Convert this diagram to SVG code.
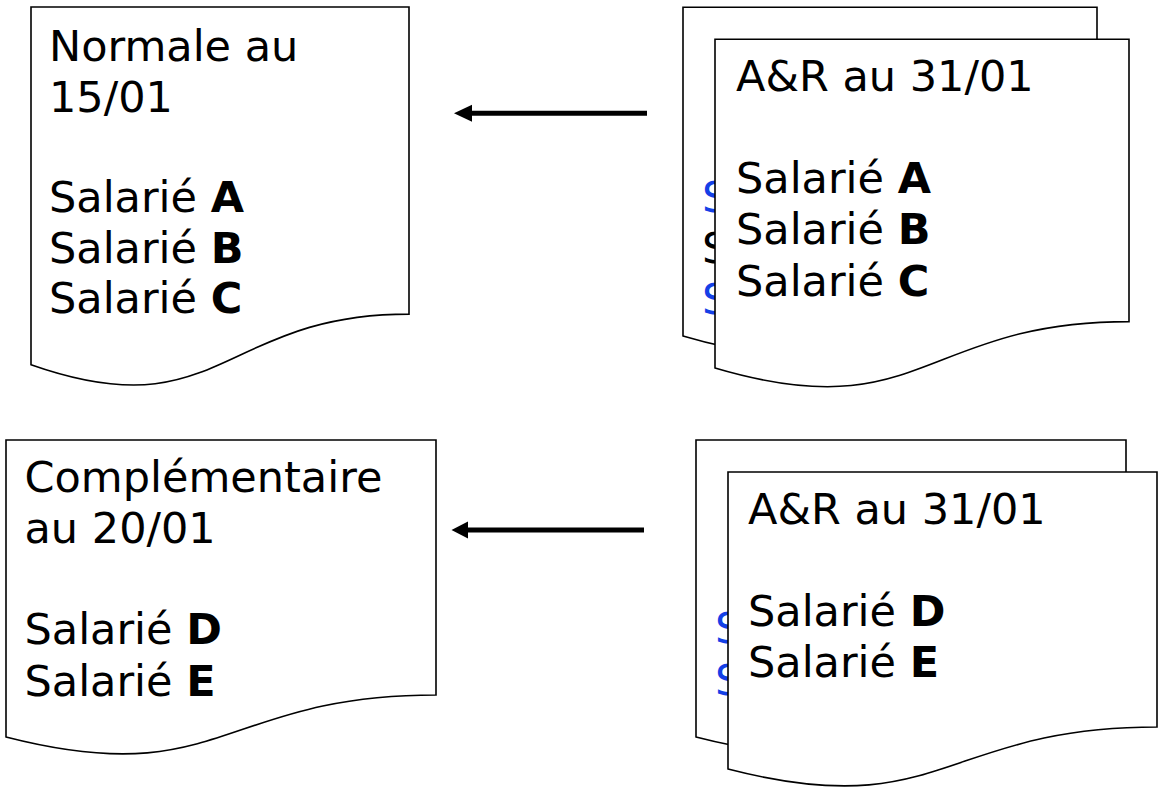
<svg xmlns="http://www.w3.org/2000/svg" width="1158" height="787" viewBox="0 0 1158 787">
<style>
.doc{fill:#fff;stroke:#000;stroke-width:1.6}
.t{font-family:"DejaVu Sans","Verdana",sans-serif;font-size:43px;fill:#000}
.b{font-weight:bold}
.blue{fill:#1440E6}
.conn{stroke:#000;stroke-width:5;fill:none}
.head{fill:#000}
</style>
<rect width="1158" height="787" fill="#fff"/>
<g id="doc-normale">
<path class="doc" d="M31,7 H409 V314.1 C220,314.1 220,431.2 31,364.7 Z"/>
<text class="t" x="49" y="61">Normale au</text>
<text class="t" x="49" y="111.5">15/01</text>
<text class="t" x="49" y="212">Salarié <tspan class="b">A</tspan></text>
<text class="t" x="49" y="262.5">Salarié <tspan class="b">B</tspan></text>
<text class="t" x="49" y="313">Salarié <tspan class="b">C</tspan></text>
</g>
<g id="doc-ar1-back">
<path class="doc" d="M683,7.3 H1097 V289.6 C890,289.6 890,397.1 683,336 Z"/>
<text class="t blue" x="702" y="212">S</text>
<text class="t" x="702" y="263">S</text>
<text class="t blue" x="702" y="314">S</text>
</g>
<g id="doc-ar1-front">
<path class="doc" d="M715,39.3 H1129 V321.6 C922,321.6 922,429.1 715,368 Z"/>
<text class="t" x="736" y="90.7">A&amp;R au 31/01</text>
<text class="t" x="736" y="193.3">Salarié <tspan class="b">A</tspan></text>
<text class="t" x="736" y="244.3">Salarié <tspan class="b">B</tspan></text>
<text class="t" x="736" y="295.7">Salarié <tspan class="b">C</tspan></text>
</g>
<g id="doc-complementaire">
<path class="doc" d="M6,440 H436 V695 C221,695 221,792.2 6,737 Z"/>
<text class="t" x="24.5" y="491.7">Complémentaire</text>
<text class="t" x="24.5" y="542.7">au 20/01</text>
<text class="t" x="24.5" y="644">Salarié <tspan class="b">D</tspan></text>
<text class="t" x="24.5" y="696">Salarié <tspan class="b">E</tspan></text>
</g>
<g id="doc-ar2-back">
<path class="doc" d="M696,440 H1126 V695 C911,695 911,792.2 696,737 Z"/>
<text class="t blue" x="715" y="643">S</text>
<text class="t blue" x="715" y="695">S</text>
</g>
<g id="doc-ar2-front">
<path class="doc" d="M728,472 H1157 V727 C942.5,727 942.5,824.2 728,769 Z"/>
<text class="t" x="748" y="524">A&amp;R au 31/01</text>
<text class="t" x="748" y="626">Salarié <tspan class="b">D</tspan></text>
<text class="t" x="748" y="677">Salarié <tspan class="b">E</tspan></text>
</g>
<g id="connectors">
<line class="conn" x1="647" y1="113.3" x2="468" y2="113.3"/>
<polygon class="head" points="454,113.3 472,104.8 472,121.8"/>
<line class="conn" x1="644" y1="530" x2="464" y2="530"/>
<polygon class="head" points="451.5,530 468,521.5 468,538.5"/>
</g>
</svg>
